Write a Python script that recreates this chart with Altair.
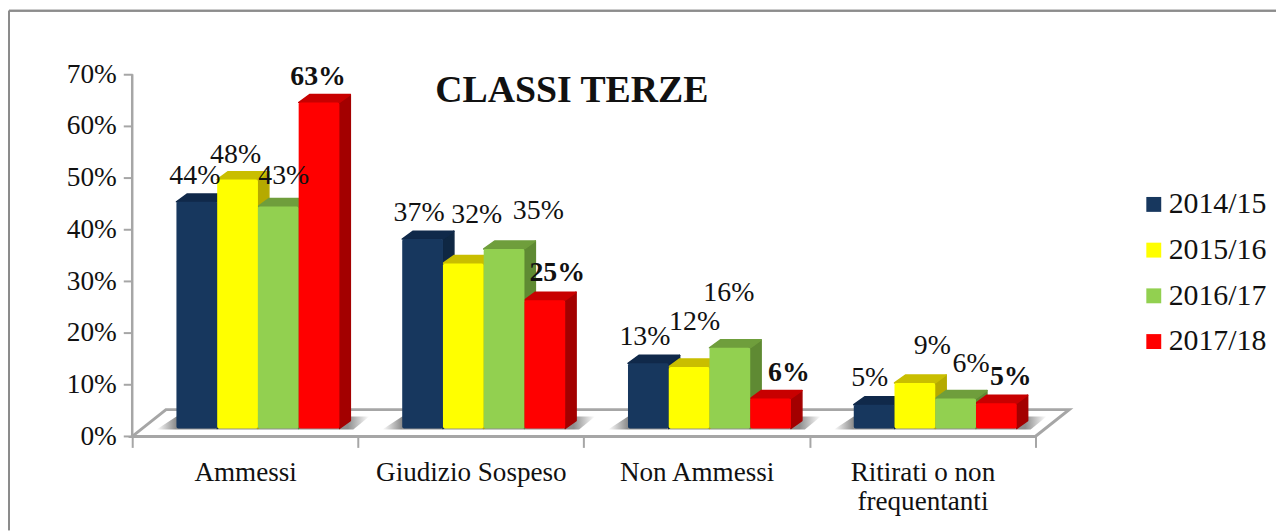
import altair as alt
import pandas as pd

# ---- chart values ----
categories = ["Ammessi", "Giudizio Sospeso", "Non Ammessi", "Ritirati o non frequentanti"]
years = ["2014/15", "2015/16", "2016/17", "2017/18"]
values_1415 = [43.8, 36.6, 12.6, 4.6]
values_1516 = [48.1, 31.9, 11.9, 8.8]
values_1617 = [42.9, 34.7, 15.6, 5.8]
values_1718 = [63.0, 24.8, 5.8, 4.9]
y_ticks = [0, 10, 20, 30, 40, 50, 60, 70]
title_text = "CLASSI TERZE"

# ---- styling ----
FONT = "Liberation Serif"
front = ["#17375E", "#FFFF00", "#92D050", "#FF0000"]
top_c = ["#10294A", "#C9BE00", "#6F9E3C", "#C80000"]
side_c = ["#0F2743", "#B5AA00", "#5F8A33", "#A30000"]
GRAY = "#A6A6A6"

W, H = 1276, 524
PX_X = 227.2            # pixels per category
PX_Y = 5.207            # pixels per percentage point
ORIGIN_X, ORIGIN_Y = 125, 429.5   # 0,0 inside the plot area
ux = lambda p: p / PX_X
uy = lambda p: p / PX_Y

BAR = ux(41)
LEAD = ux(44.5)
DX, DY = ux(11), uy(8)
BASE = uy(8)

# label nudges (px) relative to the bar's front-top centre
nudge_x = [[-2, -3.5, -3.5, -4.5], [-2, 13.5, 5.5, 17.5], [5.5, 34.5, -1, 15.5], [-1, 12.5, 18.5, 14.5]]
nudge_y = [[26, 26, 26.5, 27], [25, 49, 45.5, 37], [31, 38.5, 55, 35], [26, 27, 26, 26.5]]

series = [values_1415, values_1516, values_1617, values_1718]
bars, sides, tops, labels = [], [], [], []
for s, (yr, vals) in enumerate(zip(years, series)):
    for g, v in enumerate(vals):
        xl = g + LEAD + s * BAR
        xr = xl + BAR
        bars.append(dict(year=yr, xl=xl, xr=xr, b=BASE, t=v + BASE))
        sides.append(dict(s=s, k=g, x=xr, t=v + BASE, b=BASE))
        sides.append(dict(s=s, k=g, x=xr + DX, t=v + BASE + DY, b=BASE + DY))
        tops.append(dict(s=s, k=g, y=v + BASE, x=xl, x2=xr))
        tops.append(dict(s=s, k=g, y=v + BASE + DY, x=xl + DX, x2=xr + DX))
        labels.append(dict(x=(xl + xr) / 2 + ux(nudge_x[s][g]), y=v + BASE + uy(nudge_y[s][g]),
                           txt=f"{round(v)}%", bold=s == 3))
bars, sides, tops, labels = map(pd.DataFrame, (bars, sides, tops, labels))

floor = pd.DataFrame(dict(y=[0, uy(27)], x=[0, ux(34)], x2=[4, 4 + ux(34)]))
shadow = pd.DataFrame([
    row for g in range(4) for row in (
        dict(k=g, y=BASE - uy(1), x=g + LEAD - ux(20), x2=g + LEAD + 4 * BAR + ux(14)),
        dict(k=g, y=BASE + uy(12), x=g + LEAD, x2=g + LEAD + 4 * BAR + ux(30)),
    )
])

x_scale = alt.Scale(domain=[-ORIGIN_X / PX_X, (W - ORIGIN_X) / PX_X], range=[0, W], nice=False, zero=False)
y_scale = alt.Scale(domain=[(ORIGIN_Y - H) / PX_Y, ORIGIN_Y / PX_Y], range=[H, 0], nice=False, zero=False)

label_expr = ("datum.value == 0.5 ? '%s' : datum.value == 1.5 ? '%s' : datum.value == 2.5 ? '%s' : "
              "datum.value == 3.5 ? ['Ritirati o non', 'frequentanti'] : ''") % tuple(categories[:3])

x_axis = alt.Axis(
    orient="bottom", offset=ORIGIN_Y - H, title=None, grid=False, domain=False,
    values=[0, 0.5, 1, 1.5, 2, 2.5, 3, 3.5, 4],
    tickColor=GRAY, tickWidth=2, tickSize=11,
    tickOpacity=alt.expr("datum.value % 1 ? 0 : 1"),
    labelExpr=label_expr, labelFont=FONT, labelFontSize=27.3, labelColor="#111111",
    labelPadding=11.5, labelLineHeight=29, labelBaseline="top", labelFlush=False,
    labelOverlap=False, labelLimit=400,
)
y_axis = alt.Axis(
    orient="left", offset=-ORIGIN_X, title=None, grid=False, domain=False,
    values=y_ticks, labelExpr="datum.value + '%'",
    tickColor=GRAY, tickWidth=2, tickSize=9,
    labelFont=FONT, labelFontSize=27.5, labelColor="#111111", labelPadding=7,
)
X = lambda f: alt.X(f, type="quantitative", scale=x_scale, axis=x_axis)
Y = lambda f: alt.Y(f, type="quantitative", scale=y_scale, axis=y_axis)

frame_top = alt.Chart(floor).mark_rule(color="#8C8C8C", strokeWidth=2).encode(
    x=alt.value(1), x2=alt.value(W), y=alt.value(1))
frame_left = alt.Chart(floor).mark_rule(color="#8C8C8C", strokeWidth=2).encode(
    x=alt.value(1), y=alt.value(1), y2=alt.value(H))

y_line = alt.Chart(pd.DataFrame(dict(a=[0], b=[70], x=[0]))).mark_rule(color=GRAY, strokeWidth=2.5).encode(
    x=X("x"), y=Y("a"), y2=alt.Y2("b"))

floor_layer = alt.Chart(floor).mark_area(
    orient="horizontal", fill="white", stroke=GRAY, strokeWidth=3
).encode(y=Y("y"), x=X("x"), x2=alt.X2("x2"))

shadow_layer = alt.Chart(shadow).mark_area(
    orient="horizontal",
    color=alt.LinearGradient(gradient="linear", x1=0, x2=1, y1=0, y2=0, stops=[
        alt.GradientStop(color="#FFFFFF", offset=0),
        alt.GradientStop(color="#8E8E8E", offset=0.09),
        alt.GradientStop(color="#8E8E8E", offset=0.90),
        alt.GradientStop(color="#FFFFFF", offset=1),
    ]),
).encode(y=Y("y"), x=X("x"), x2=alt.X2("x2"), detail="k:N")

side_layers = [
    alt.Chart(sides[sides.s == s]).mark_area(color=side_c[s], stroke=side_c[s], strokeWidth=1.5, strokeJoin="round").encode(
        x=X("x"), y=Y("t"), y2=alt.Y2("b"), detail="k:N")
    for s in range(4)
]
top_layers = [
    alt.Chart(tops[tops.s == s]).mark_area(orient="horizontal", color=top_c[s], stroke=top_c[s], strokeWidth=1.5, strokeJoin="round").encode(
        y=Y("y"), x=X("x"), x2=alt.X2("x2"), detail="k:N")
    for s in range(4)
]

front_layer = alt.Chart(bars).mark_rect(cornerRadius=2).encode(
    x=X("xl"), x2=alt.X2("xr"), y=Y("b"), y2=alt.Y2("t"),
    color=alt.Color("year:N", scale=alt.Scale(domain=years, range=front), legend=alt.Legend(
        title=None, orient="none", legendX=1138, legendY=181,
        symbolType="square", symbolSize=225, symbolStrokeWidth=1, symbolOpacity=1,
        labelFont=FONT, labelFontSize=30, labelColor="#111111", labelLimit=200,
        rowPadding=16, labelOffset=0, padding=0,
    )),
)

def text_layer(df, **kw):
    return alt.Chart(df).mark_text(font=FONT, fontSize=28, color="#111111", baseline="middle", align="center", **kw).encode(
        x=X("x"), y=Y("y"), text="txt:N")

chart = alt.layer(
    frame_top, frame_left, floor_layer, shadow_layer, y_line,
    *side_layers, *top_layers, front_layer,
    text_layer(labels[~labels.bold]), text_layer(labels[labels.bold], fontWeight="bold"),
).properties(
    width=W, height=H,
    padding=0, autosize=alt.AutoSizeParams(type="none"),
    title=alt.TitleParams(title_text, font=FONT, fontSize=38, fontWeight="bold", color="#111111",
                          anchor="start", frame="group", offset=0, dx=430, dy=131, baseline="alphabetic"),
).configure_view(stroke=None)

chart.save("out.html", embed_options={"renderer": "svg", "actions": False})
